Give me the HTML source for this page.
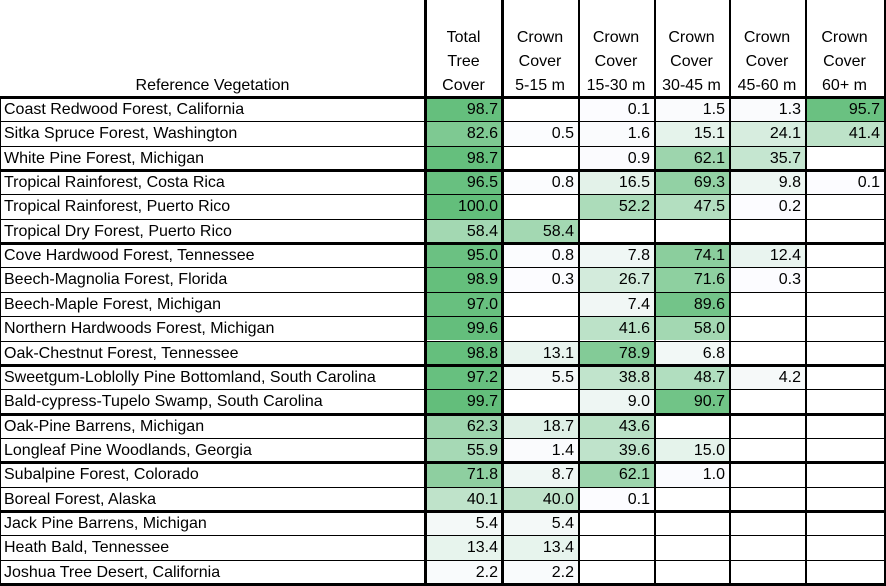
<!DOCTYPE html>
<html><head><meta charset="utf-8"><style>
body{margin:0;width:886px;height:585px;background:#fff;overflow:hidden;font-family:"Liberation Sans",sans-serif;}
#t{position:absolute;left:0;top:0;width:886px;height:585px;}
.c{position:absolute;box-sizing:border-box;font-size:16px;color:#000;line-height:24px;white-space:nowrap;}
.h{position:absolute;box-sizing:border-box;font-size:16px;line-height:24px;text-align:center;}
.ln{position:absolute;background:#000;}
</style></head><body>
<div id="t"></div>
<script>
const categories=["Coast Redwood Forest, California","Sitka Spruce Forest, Washington","White Pine Forest, Michigan","Tropical Rainforest, Costa Rica","Tropical Rainforest, Puerto Rico","Tropical Dry Forest, Puerto Rico","Cove Hardwood Forest, Tennessee","Beech-Magnolia Forest, Florida","Beech-Maple Forest, Michigan","Northern Hardwoods Forest, Michigan","Oak-Chestnut Forest, Tennessee","Sweetgum-Loblolly Pine Bottomland, South Carolina","Bald-cypress-Tupelo Swamp, South Carolina","Oak-Pine Barrens, Michigan","Longleaf Pine Woodlands, Georgia","Subalpine Forest, Colorado","Boreal Forest, Alaska","Jack Pine Barrens, Michigan","Heath Bald, Tennessee","Joshua Tree Desert, California"];
const totalCover=[98.7,82.6,98.7,96.5,100.0,58.4,95.0,98.9,97.0,99.6,98.8,97.2,99.7,62.3,55.9,71.8,40.1,5.4,13.4,2.2];
const cover5to15=[null,0.5,null,0.8,null,58.4,0.8,0.3,null,null,13.1,5.5,null,18.7,1.4,8.7,40.0,5.4,13.4,2.2];
const cover15to30=[0.1,1.6,0.9,16.5,52.2,null,7.8,26.7,7.4,41.6,78.9,38.8,9.0,43.6,39.6,62.1,0.1,null,null,null];
const cover30to45=[1.5,15.1,62.1,69.3,47.5,null,74.1,71.6,89.6,58.0,6.8,48.7,90.7,null,15.0,1.0,null,null,null,null];
const cover45to60=[1.3,24.1,35.7,9.8,0.2,null,12.4,0.3,null,null,null,4.2,null,null,null,null,null,null,null,null];
const cover60plus=[95.7,41.4,null,0.1,null,null,null,null,null,null,null,null,null,null,null,null,null,null,null,null];
const headers=[["Total","Tree","Cover"],["Crown","Cover","5-15 m"],["Crown","Cover","15-30 m"],["Crown","Cover","30-45 m"],["Crown","Cover","45-60 m"],["Crown","Cover","60+ m"]];
const groupEnds=[3,6,11,13,15,17,20];

const t=document.getElementById('t');
const X=[0,425,502,578,654,729,805,884];
const HB=97, RH=24.35;
const series=[totalCover,cover5to15,cover15to30,cover30to45,cover45to60,cover60plus];
function color(v){const a=[252,252,255],b=[99,190,123];const f=Math.max(0,Math.min(1,v/100));return 'rgb('+a.map((c,i)=>Math.round(c+(b[i]-c)*f)).join(',')+')';}
function rowY(i){return HB+i*RH;}
let h=document.createElement('div');h.className='h';


h.style.cssText='left:0;width:425px;top:74px;';h.textContent='Reference Vegetation';t.appendChild(h);
headers.forEach((lines,j)=>{
 const d=document.createElement('div');d.className='h';
 
 
 d.style.left=X[j+1]+'px';d.style.width=(X[j+2]-X[j+1])+'px';d.style.top='26px';
 d.innerHTML=lines.join('<br>');t.appendChild(d);
});
categories.forEach((name,i)=>{
 const y=rowY(i);
 const l=document.createElement('div');l.className='c';
 
 
 l.style.cssText='left:4px;top:'+(y+1)+'px;height:'+RH+'px;';l.textContent=name;t.appendChild(l);
 series.forEach((s,j)=>{
  const v=s[i];
  const c=document.createElement('div');c.className='c';
  
  
  c.style.left=X[j+1]+'px';c.style.width=(X[j+2]-X[j+1])+'px';c.style.top=y+'px';c.style.height=RH+'px';
  c.style.textAlign='right';c.style.paddingRight='4px';c.style.paddingTop='1px';
  if(v!==null){c.style.background=color(v);c.textContent=v.toFixed(1);}
  t.appendChild(c);
 });
});
function line(x,y,w,hh){const d=document.createElement('div');d.className='ln';
 
 
 d.style.cssText='left:'+x+'px;top:'+y+'px;width:'+w+'px;height:'+hh+'px;';t.appendChild(d);}
line(0,HB-1,886,3);
for(let i=1;i<=categories.length;i++){
 const y=Math.round(rowY(i));
 if(groupEnds.includes(i)) line(0,y-1,886,3); else line(0,y,886,1);
}
line(0,HB,1,488);
line(424,0,3,585);line(501,0,3,585);
[578,654,729,805].forEach(x=>line(x,0,2,585));
line(884,0,2,585);
</script>
</body></html>
